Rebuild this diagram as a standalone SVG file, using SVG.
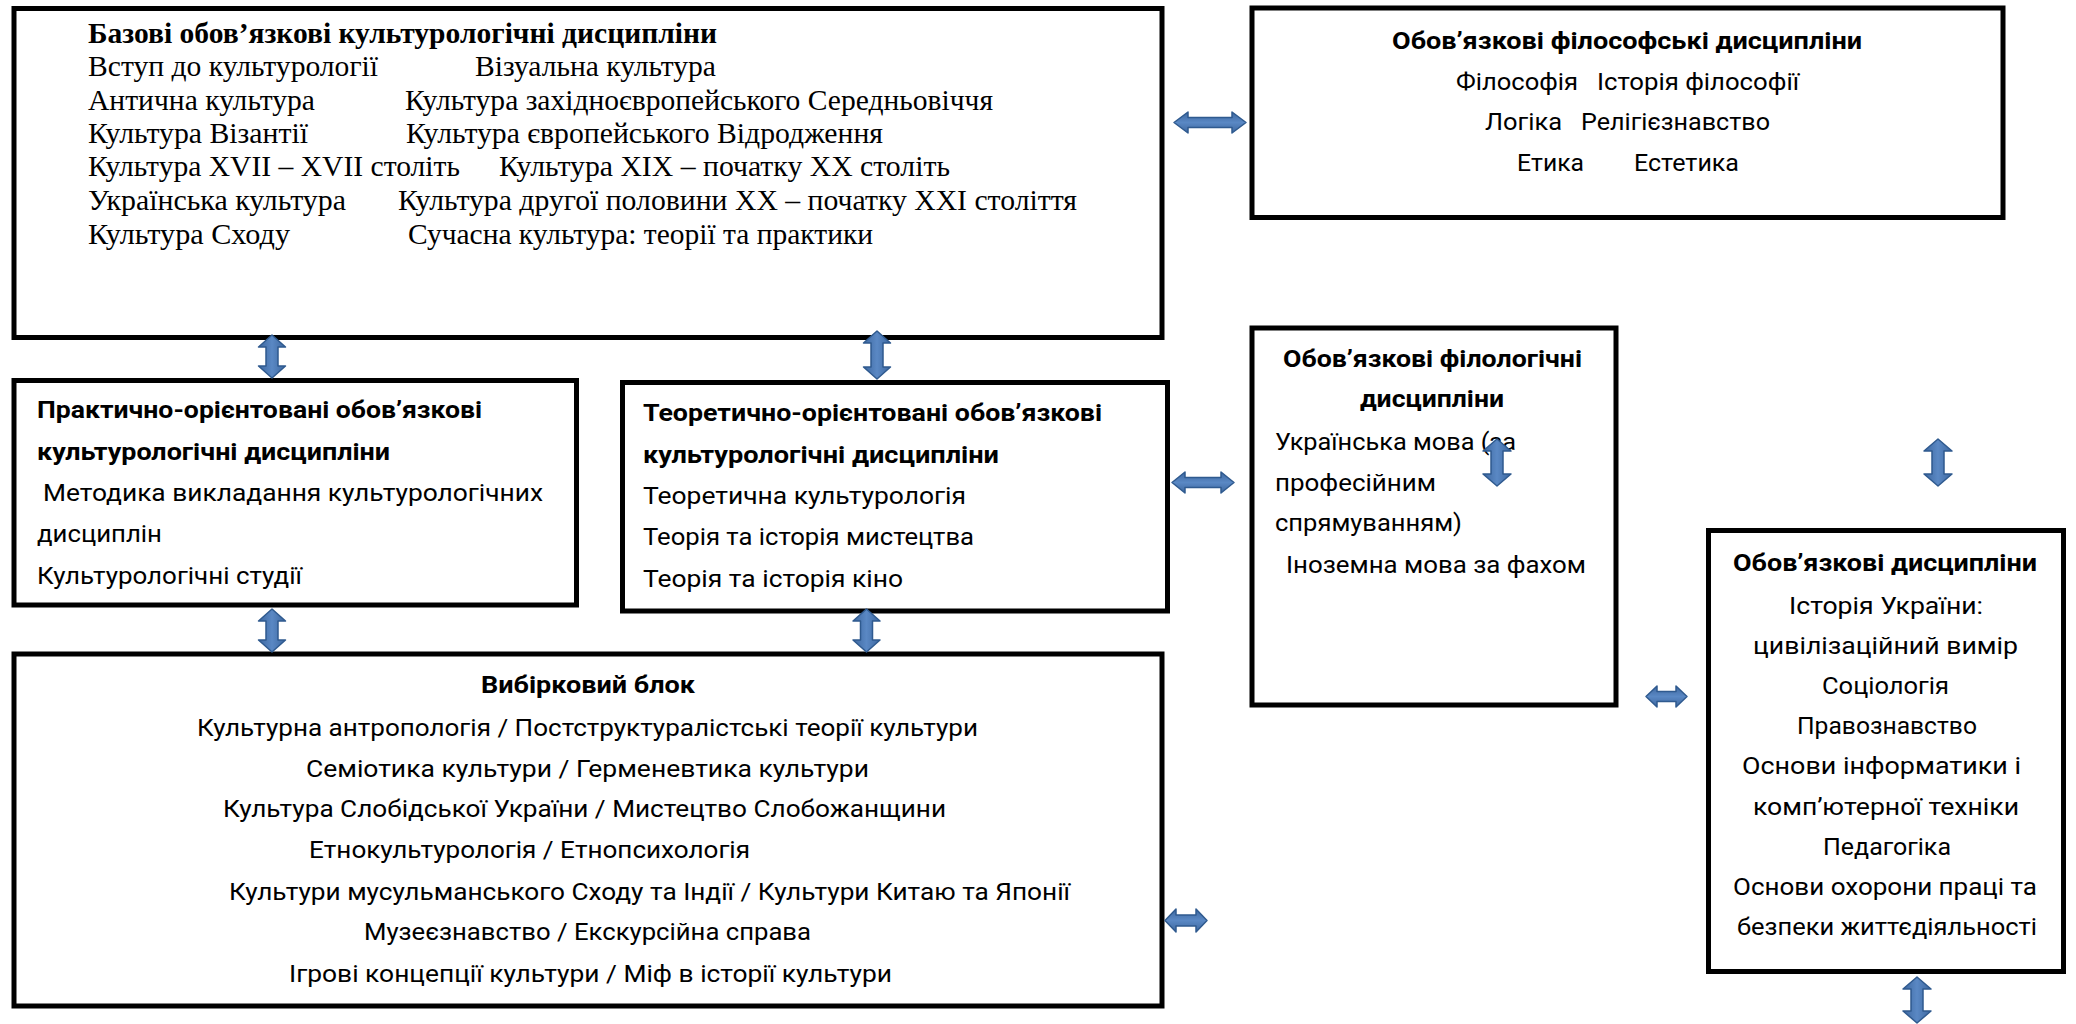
<svg xmlns="http://www.w3.org/2000/svg" width="2076" height="1024" viewBox="0 0 2076 1024">
<style>
.box{fill:#fff;stroke:#000;stroke-width:5}
.tnr{font-family:"Liberation Serif","Times New Roman",serif;font-size:29px;fill:#000}
.cal{font-family:Roboto,"Noto Sans",sans-serif;font-size:23.5px;fill:#000}
.b{font-weight:700}
.arr{stroke:#2f5a8f;stroke-width:1.5;stroke-linejoin:round}
.ah{fill:url(#gh)}
.av{fill:url(#gv)}
</style>
<defs>
<linearGradient id="gh" x1="0" y1="0" x2="0" y2="1">
<stop offset="0" stop-color="#3d679f"/>
<stop offset="0.5" stop-color="#5a88c4"/>
<stop offset="1" stop-color="#3d679f"/>
</linearGradient>
<linearGradient id="gv" x1="0" y1="0" x2="1" y2="0">
<stop offset="0" stop-color="#3d679f"/>
<stop offset="0.5" stop-color="#5a88c4"/>
<stop offset="1" stop-color="#3d679f"/>
</linearGradient>
</defs>
<rect x="0" y="0" width="2076" height="1024" fill="#fff"/>

<g id="node-base">
<rect class="box" x="14" y="8.5" width="1148" height="329"/>
<text class="tnr b" x="88" y="43" textLength="629" lengthAdjust="spacingAndGlyphs">Базові обов’язкові культурологічні дисципліни</text>
<text class="tnr" x="88" y="76" textLength="290" lengthAdjust="spacingAndGlyphs">Вступ до культурології</text>
<text class="tnr" x="475" y="76" textLength="241" lengthAdjust="spacingAndGlyphs">Візуальна культура</text>
<text class="tnr" x="88" y="109.5" textLength="227" lengthAdjust="spacingAndGlyphs">Антична культура</text>
<text class="tnr" x="405" y="109.5" textLength="588" lengthAdjust="spacingAndGlyphs">Культура західноєвропейського Середньовіччя</text>
<text class="tnr" x="88" y="142.5" textLength="220" lengthAdjust="spacingAndGlyphs">Культура Візантії</text>
<text class="tnr" x="406" y="142.5" textLength="477" lengthAdjust="spacingAndGlyphs">Культура європейського Відродження</text>
<text class="tnr" x="88" y="176" textLength="372" lengthAdjust="spacingAndGlyphs">Культура XVII – XVII століть</text>
<text class="tnr" x="499" y="176" textLength="451" lengthAdjust="spacingAndGlyphs">Культура XIX – початку XX століть</text>
<text class="tnr" x="88" y="210" textLength="258" lengthAdjust="spacingAndGlyphs">Українська культура</text>
<text class="tnr" x="398" y="210" textLength="679" lengthAdjust="spacingAndGlyphs">Культура другої половини XX – початку XXI століття</text>
<text class="tnr" x="88" y="243.5" textLength="202" lengthAdjust="spacingAndGlyphs">Культура Сходу</text>
<text class="tnr" x="408" y="243.5" textLength="465" lengthAdjust="spacingAndGlyphs">Сучасна культура: теорії та практики</text>
</g>

<g id="node-philosophy">
<rect class="box" x="1252" y="8" width="751" height="209.5"/>
<text class="cal b" x="1392" y="48.5" textLength="470" lengthAdjust="spacingAndGlyphs">Обов’язкові філософські дисципліни</text>
<text class="cal" x="1456" y="89.5" textLength="122" lengthAdjust="spacingAndGlyphs">Філософія</text>
<text class="cal" x="1597" y="89.5" textLength="202" lengthAdjust="spacingAndGlyphs">Історія філософії</text>
<text class="cal" x="1485" y="130" textLength="77" lengthAdjust="spacingAndGlyphs">Логіка</text>
<text class="cal" x="1581" y="130" textLength="189" lengthAdjust="spacingAndGlyphs">Релігієзнавство</text>
<text class="cal" x="1517" y="171" textLength="67" lengthAdjust="spacingAndGlyphs">Етика</text>
<text class="cal" x="1634" y="171" textLength="105" lengthAdjust="spacingAndGlyphs">Естетика</text>
</g>

<g id="node-practical">
<rect class="box" x="14" y="380.5" width="562.5" height="224.5"/>
<text class="cal b" x="37" y="418" textLength="445" lengthAdjust="spacingAndGlyphs">Практично-орієнтовані обов’язкові</text>
<text class="cal b" x="37" y="460" textLength="353" lengthAdjust="spacingAndGlyphs">культурологічні дисципліни</text>
<text class="cal" x="43" y="501" textLength="500" lengthAdjust="spacingAndGlyphs">Методика викладання культурологічних</text>
<text class="cal" x="37" y="542" textLength="125" lengthAdjust="spacingAndGlyphs">дисциплін</text>
<text class="cal" x="37" y="583.5" textLength="265" lengthAdjust="spacingAndGlyphs">Культурологічні студії</text>
</g>

<g id="node-theoretical">
<rect class="box" x="622.5" y="382.5" width="545" height="228.5"/>
<text class="cal b" x="643" y="421" textLength="459" lengthAdjust="spacingAndGlyphs">Теоретично-орієнтовані обов’язкові</text>
<text class="cal b" x="643" y="462.5" textLength="356" lengthAdjust="spacingAndGlyphs">культурологічні дисципліни</text>
<text class="cal" x="643" y="504" textLength="323" lengthAdjust="spacingAndGlyphs">Теоретична культурологія</text>
<text class="cal" x="643" y="545" textLength="331" lengthAdjust="spacingAndGlyphs">Теорія та історія мистецтва</text>
<text class="cal" x="643" y="586.5" textLength="260" lengthAdjust="spacingAndGlyphs">Теорія та історія кіно</text>
</g>

<g id="node-philology">
<rect class="box" x="1252" y="328" width="364" height="377"/>
<text class="cal b" x="1283" y="366.5" textLength="299" lengthAdjust="spacingAndGlyphs">Обов’язкові філологічні</text>
<text class="cal b" x="1360" y="407" textLength="144" lengthAdjust="spacingAndGlyphs">дисципліни</text>
<text class="cal" x="1275" y="450" textLength="241" lengthAdjust="spacingAndGlyphs">Українська мова (за</text>
<text class="cal" x="1275" y="490.5" textLength="161" lengthAdjust="spacingAndGlyphs">професійним</text>
<text class="cal" x="1275" y="531" textLength="187" lengthAdjust="spacingAndGlyphs">спрямуванням)</text>
<text class="cal" x="1286" y="572.5" textLength="300" lengthAdjust="spacingAndGlyphs">Іноземна мова за фахом</text>
</g>

<g id="node-general">
<rect class="box" x="1708.5" y="530.5" width="355" height="441"/>
<text class="cal b" x="1733" y="571" textLength="304" lengthAdjust="spacingAndGlyphs">Обов’язкові дисципліни</text>
<text class="cal" x="1789" y="614" textLength="194" lengthAdjust="spacingAndGlyphs">Історія України:</text>
<text class="cal" x="1753" y="654" textLength="265" lengthAdjust="spacingAndGlyphs">цивілізаційний вимір</text>
<text class="cal" x="1822" y="693.5" textLength="127" lengthAdjust="spacingAndGlyphs">Соціологія</text>
<text class="cal" x="1797" y="733.5" textLength="180" lengthAdjust="spacingAndGlyphs">Правознавство</text>
<text class="cal" x="1742" y="774" textLength="279" lengthAdjust="spacingAndGlyphs">Основи інформатики і</text>
<text class="cal" x="1753" y="814.5" textLength="266" lengthAdjust="spacingAndGlyphs">комп’ютерної техніки</text>
<text class="cal" x="1823" y="855" textLength="128" lengthAdjust="spacingAndGlyphs">Педагогіка</text>
<text class="cal" x="1733" y="895" textLength="304" lengthAdjust="spacingAndGlyphs">Основи охорони праці та</text>
<text class="cal" x="1737" y="935" textLength="300" lengthAdjust="spacingAndGlyphs">безпеки життєдіяльності</text>
</g>

<g id="node-elective">
<rect class="box" x="14" y="654" width="1148" height="352"/>
<text class="cal b" x="481" y="693" textLength="214" lengthAdjust="spacingAndGlyphs">Вибірковий блок</text>
<text class="cal" x="197" y="736" textLength="781" lengthAdjust="spacingAndGlyphs">Культурна антропологія / Постструктуралістські теорії культури</text>
<text class="cal" x="306" y="776.5" textLength="563" lengthAdjust="spacingAndGlyphs">Семіотика культури / Герменевтика культури</text>
<text class="cal" x="223" y="817" textLength="723" lengthAdjust="spacingAndGlyphs">Культура Слобідської України / Мистецтво Слобожанщини</text>
<text class="cal" x="309" y="858" textLength="441" lengthAdjust="spacingAndGlyphs">Етнокультурологія / Етнопсихологія</text>
<text class="cal" x="229" y="900" textLength="841" lengthAdjust="spacingAndGlyphs">Культури мусульманського Сходу та Індії / Культури Китаю та Японії</text>
<text class="cal" x="364" y="940" textLength="447" lengthAdjust="spacingAndGlyphs">Музеєзнавство / Екскурсійна справа</text>
<text class="cal" x="289" y="981.5" textLength="603" lengthAdjust="spacingAndGlyphs">Ігрові концепції культури / Міф в історії культури</text>
</g>

<g id="connectors">
<path class="arr ah" d="M1174,122.5 L1188,112 L1188,117.5 L1232,117.5 L1232,112 L1246,122.5 L1232,133 L1232,127.5 L1188,127.5 L1188,133 Z"/>
<path class="arr ah" d="M1172,482.5 L1185,472 L1185,477.5 L1221,477.5 L1221,472 L1234,482.5 L1221,493 L1221,487.5 L1185,487.5 L1185,493 Z"/>
<path class="arr ah" d="M1646,696.5 L1657,686 L1657,691.5 L1676,691.5 L1676,686 L1687,696.5 L1676,707 L1676,701.5 L1657,701.5 L1657,707 Z"/>
<path class="arr ah" d="M1165,920.5 L1176,909 L1176,915 L1196,915 L1196,909 L1207,920.5 L1196,932 L1196,926 L1176,926 L1176,932 Z"/>
<path class="arr av" d="M272,335 L285.5,347 L278,347 L278,366 L285.5,366 L272,378 L258.5,366 L266,366 L266,347 L258.5,347 Z"/>
<path class="arr av" d="M877,331 L890.5,343 L883,343 L883,367 L890.5,367 L877,379 L863.5,367 L871,367 L871,343 L863.5,343 Z"/>
<path class="arr av" d="M272,609 L285.5,621 L278,621 L278,640 L285.5,640 L272,652 L258.5,640 L266,640 L266,621 L258.5,621 Z"/>
<path class="arr av" d="M866.5,609 L880,621 L872.5,621 L872.5,640 L880,640 L866.5,652 L853,640 L860.5,640 L860.5,621 L853,621 Z"/>
<path class="arr av" d="M1497,439 L1511,451 L1503,451 L1503,474 L1511,474 L1497,486 L1483,474 L1491,474 L1491,451 L1483,451 Z"/>
<path class="arr av" d="M1938,439 L1952,451 L1944,451 L1944,474 L1952,474 L1938,486 L1924,474 L1932,474 L1932,451 L1924,451 Z"/>
<path class="arr av" d="M1917,977 L1931,989 L1923,989 L1923,1011 L1931,1011 L1917,1023 L1903,1011 L1911,1011 L1911,989 L1903,989 Z"/>
</g>
</svg>
